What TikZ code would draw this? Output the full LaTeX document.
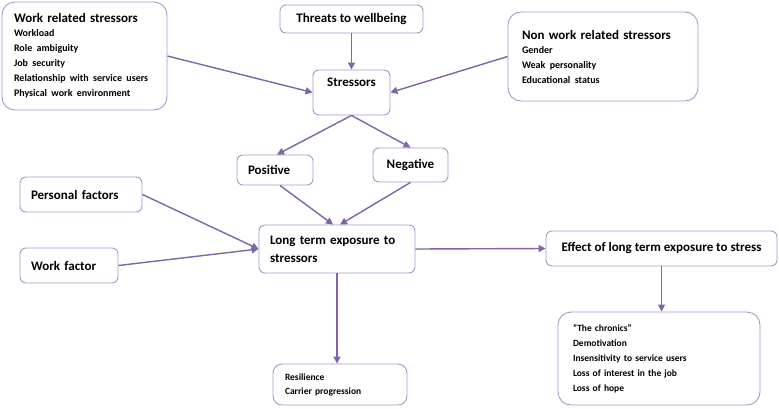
\documentclass[tikz,border=0pt]{standalone}
\usepackage{fontspec}
\setmainfont{Carlito}
\usetikzlibrary{arrows.meta}

\definecolor{linkpurple}{RGB}{128,100,168}
\definecolor{boxpurple}{RGB}{168,150,200}

\begin{document}
\begin{tikzpicture}[x=1pt, y=-1pt,
  box/.style={draw=boxpurple, line width=0.9pt, rounded corners=6pt, inner sep=0pt,
    font=\bfseries\fontsize{13}{15}\selectfont},
  bigbox/.style={box, rounded corners=13pt, align=left},
  link/.style={draw=linkpurple, line width=1.4pt, -{Triangle[length=7pt,width=7pt]}}]
\useasboundingbox (0,0) rectangle (779,408);
\node[bigbox, minimum width=165pt, minimum height=108pt, text width=141pt] (wrs) at (84.5,56)
  {\fontsize{13}{15}\selectfont Work related stressors\\[-1pt]
   \fontsize{10}{15}\selectfont Workload\\ Role ambiguity\\ Job security\\
   Relationship with service users\\ Physical work environment};
\node[box, minimum width=143pt, minimum height=28pt] (thr) at (351.5,19) {Threats to wellbeing};
\node[bigbox, minimum width=190pt, minimum height=89pt, text width=162pt] (nwrs) at (603,56.5)
  {\fontsize{13}{15}\selectfont Non work related stressors\\[-1pt]
   \fontsize{10}{15}\selectfont Gender\\ Weak personality\\ Educational status\\[6pt]};
\node[box, minimum width=77pt, minimum height=45pt, align=center] (stress) at (351.5,92.5) {Stressors\\[6pt]};
\node[box, minimum width=76pt, minimum height=30pt, text width=54pt, align=left] (pos) at (275,170) {Positive};
\node[box, minimum width=75pt, minimum height=34pt] (neg) at (410.5,165) {Negative\\[2pt]};
\node[box, minimum width=122pt, minimum height=35pt, text width=100pt, align=left] (pers) at (81,194.5) {Personal factors};
\node[box, minimum width=98pt, minimum height=35pt, text width=76pt, align=left] (work) at (69,265.5) {Work factor};
\node[box, minimum width=156pt, minimum height=48pt, text width=134pt, align=left,
  font=\bfseries\fontsize{13}{18}\selectfont] (lte) at (337,249) {Long term exposure to\\ stressors};
\node[box, minimum width=231pt, minimum height=35pt] (eff) at (661.5,248.5) {Effect of long term exposure to stress};
\node[box, rounded corners=9pt, minimum width=134pt, minimum height=41pt, text width=110pt, align=left,
  font=\bfseries\fontsize{9.5}{14}\selectfont] (res) at (340,384.5) {Resilience\\ Carrier progression};
\node[bigbox, minimum width=202pt, minimum height=93pt, text width=172pt,
  font=\bfseries\fontsize{9.5}{15}\selectfont] (chron) at (659,358.5)
  {"The chronics"\\ Demotivation\\ Insensitivity to service users\\ Loss of interest in the job\\ Loss of hope};
% arrows
\draw[link] (wrs.east) -- (stress.west);
\draw[link] (thr.south) -- (stress.north);
\draw[link] (nwrs.west) -- (stress.east);
\draw[link] (stress.south) -- ([xshift=2pt]pos.north);
\draw[link] (stress.south) -- (neg.north);
\draw[link] ([xshift=5pt]pos.south) -- ([xshift=-4pt]lte.north);
\draw[link] (neg.south) -- ([xshift=3pt]lte.north);
\draw[link] (pers.east) -- (lte.west);
\draw[link] (work.east) -- (lte.west);
\draw[link] (lte.east) -- (eff.west);
\draw[link] (eff.south) -- (eff.south |- chron.north);
\draw[link] (lte.south) -- (lte.south |- res.north);
\end{tikzpicture}
\end{document}
